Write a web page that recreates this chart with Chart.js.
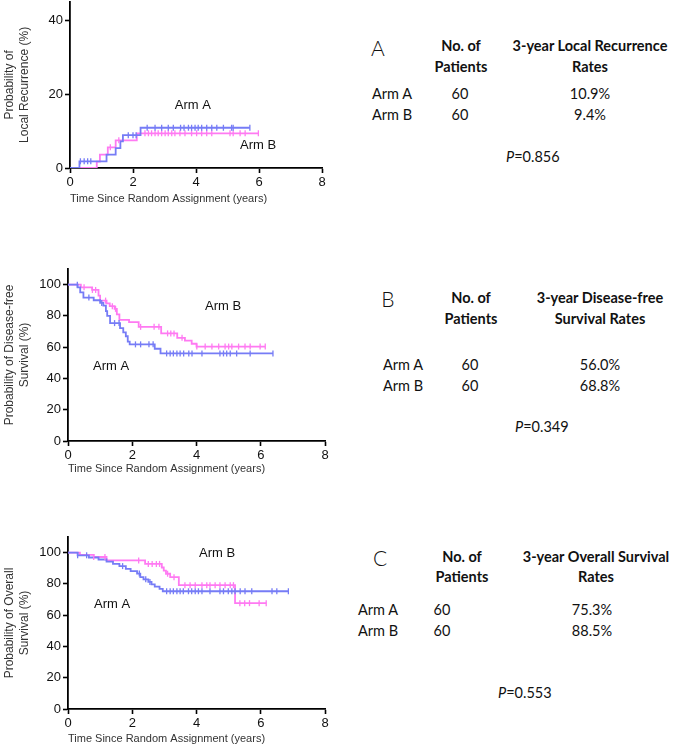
<!DOCTYPE html>
<html>
<head>
<meta charset="utf-8">
<script src="https://cdn.jsdelivr.net/npm/chart.js@4.4.0/dist/chart.umd.min.js"></script>
<style>
body { margin: 0; background: #fff; width: 685px; height: 747px; position: relative; overflow: hidden;
       font-family: Lato, "Open Sans", sans-serif; color: #111; }
canvas { position: absolute; left: 0; }
.t { position: absolute; white-space: nowrap; font-size: 14.5px; line-height: 1; transform: translate(0, -50%); }
.c { transform: translate(-50%, -50%); }
.b { font-weight: bold; }
.lt { font-size: 21px; font-weight: 300; }
i { font-style: italic; }
</style>
</head>
<body>
<canvas id="lrChart" width="335" height="218" style="top:-8px"></canvas>
<canvas id="dfsChart" width="335" height="250" style="top:230px"></canvas>
<canvas id="osChart" width="335" height="250" style="top:497px"></canvas>

<div class="t c lt" style="left:378px;top:47px">A</div>
<div class="t c b" style="left:461px;top:46px">No. of</div>
<div class="t c b" style="left:461px;top:67px">Patients</div>
<div class="t c b" style="left:590px;top:46px">3-year Local Recurrence</div>
<div class="t c b" style="left:590px;top:67px">Rates</div>
<div class="t" style="left:372px;top:94px">Arm A</div>
<div class="t" style="left:372px;top:115px">Arm B</div>
<div class="t c" style="left:460px;top:94px">60</div>
<div class="t c" style="left:460px;top:115px">60</div>
<div class="t c" style="left:590px;top:94px">10.9%</div>
<div class="t c" style="left:590px;top:115px">9.4%</div>
<div class="t" style="left:506px;top:157px"><i>P</i>=0.856</div>

<div class="t c lt" style="left:388px;top:298px">B</div>
<div class="t c b" style="left:471px;top:298px">No. of</div>
<div class="t c b" style="left:471px;top:319px">Patients</div>
<div class="t c b" style="left:600px;top:298px">3-year Disease-free</div>
<div class="t c b" style="left:600px;top:319px">Survival Rates</div>
<div class="t" style="left:383px;top:365px">Arm A</div>
<div class="t" style="left:383px;top:386px">Arm B</div>
<div class="t c" style="left:470px;top:365px">60</div>
<div class="t c" style="left:470px;top:386px">60</div>
<div class="t c" style="left:600px;top:365px">56.0%</div>
<div class="t c" style="left:600px;top:386px">68.8%</div>
<div class="t" style="left:515px;top:427px"><i>P</i>=0.349</div>

<div class="t c lt" style="left:380px;top:557px">C</div>
<div class="t c b" style="left:462px;top:557px">No. of</div>
<div class="t c b" style="left:462px;top:577px">Patients</div>
<div class="t c b" style="left:596px;top:557px">3-year Overall Survival</div>
<div class="t c b" style="left:596px;top:577px">Rates</div>
<div class="t" style="left:358px;top:610px">Arm A</div>
<div class="t" style="left:358px;top:631px">Arm B</div>
<div class="t c" style="left:442px;top:610px">60</div>
<div class="t c" style="left:442px;top:631px">60</div>
<div class="t c" style="left:592px;top:610px">75.3%</div>
<div class="t c" style="left:592px;top:631px">88.5%</div>
<div class="t" style="left:498px;top:693px"><i>P</i>=0.553</div>

<script>
// local recurrence (cumulative, %)
const lrTimeA = [0, 0.3, 1.16, 1.45, 1.6, 1.68, 2.24, 5.71];
const lrValA  = [0, 1.8, 3.6, 5.4, 7.2, 8.9, 10.9, 10.9];
const lrCensA = [0.33, 0.45, 0.56, 0.66, 1.85, 2.0, 2.1, 2.45, 2.7, 2.91, 3.12, 3.28, 3.51, 3.62, 3.76, 3.86,
                 3.97, 4.07, 4.18, 4.34, 4.5, 4.66, 4.87, 5.13, 5.18, 5.71];
const lrTimeB = [0, 0.85, 0.95, 1.2, 1.45, 2.12, 5.98];
const lrValB  = [0, 1.7, 3.6, 5.6, 7.5, 9.4, 9.4];
const lrCensB = [1.28, 1.55, 2.38, 2.49, 2.59, 2.7, 2.8, 2.91, 3.02, 3.12, 3.23, 3.33, 3.49, 3.65, 3.86, 4.02,
                 4.18, 4.34, 4.5, 5.08, 5.18, 5.4, 5.56, 5.98];

// disease-free survival (%)
const dfsTimeA = [0, 0.3, 0.38, 0.48, 0.8, 1.0, 1.1, 1.18, 1.22, 1.31, 1.62, 1.72, 1.8, 1.86, 1.92, 2.7, 2.88, 6.38];
const dfsValA  = [100, 98.3, 95, 91.7, 90, 88.3, 86.6, 83, 80, 75.4, 72.2, 69.5, 67, 63.5, 61.8, 59, 56, 56];
const dfsCensA = [0.29, 0.65, 1.05, 1.45, 1.59, 2.1, 2.26, 2.52, 2.65, 3.07, 3.18, 3.28, 3.39, 3.49, 3.6, 3.76,
                  3.86, 4.17, 4.73, 4.84, 4.94, 5.05, 5.25, 5.67, 6.38];
const dfsTimeB = [0, 0.4, 0.75, 0.95, 1.0, 1.2, 1.3, 1.45, 1.52, 1.6, 1.9, 2.2, 2.9, 3.4, 3.64, 3.85, 4.0, 6.14];
const dfsValB  = [100, 98.3, 96.6, 93, 89.8, 88, 86.2, 84.5, 81, 77.5, 76, 73, 68.8, 66, 64.2, 62.2, 60.4, 60.4];
const dfsCensB = [0.5, 0.76, 0.86, 1.17, 1.38, 1.48, 2.26, 2.68, 2.83, 3.1, 3.2, 3.3, 3.55, 4.01, 4.27, 4.48,
                  4.69, 4.89, 5.0, 5.1, 5.31, 5.51, 5.67, 5.98, 6.14];

// overall survival (%)
const osTimeA = [0, 0.3, 0.65, 0.95, 1.2, 1.4, 1.6, 1.8, 1.95, 2.15, 2.25, 2.35, 2.5, 2.6, 2.7, 2.85, 2.95, 6.86];
const osValA  = [100, 98.3, 96.9, 95.6, 94.2, 92.8, 91.4, 89.6, 88.2, 86.6, 84.4, 82.9, 81.3, 79.7, 78.2, 76.8, 75.3, 75.3];
const osCensA = [0.3, 0.58, 1.7, 2.22, 2.42, 2.55, 3.07, 3.18, 3.28, 3.39, 3.49, 3.59, 3.75, 3.85, 3.96, 4.06,
                 4.17, 4.42, 4.73, 4.84, 4.99, 5.1, 5.2, 5.36, 5.51, 5.72, 6.35, 6.5, 6.86];
const osTimeB = [0, 0.37, 0.8, 1.2, 2.4, 2.92, 2.98, 3.05, 3.18, 3.45, 5.2, 6.17];
const osValB  = [100, 98.6, 97.2, 95.0, 92.8, 90.5, 88.5, 86.5, 84.3, 79.2, 67.7, 67.7];
const osCensB = [0.8, 1.15, 2.2, 2.5, 2.62, 2.75, 2.85, 3.1, 3.3, 3.64, 3.8, 3.96, 4.17, 4.32, 4.42, 4.58, 4.73,
                 4.89, 5.05, 5.15, 5.35, 5.5, 5.65, 5.95, 6.17];

const xTicks = [0, 2, 4, 6, 8];
const lrYTicks = [0, 20, 40];
const survYTicks = [0, 20, 40, 60, 80, 100];

const BLUE = 'rgb(118,124,246)';
const PINK = 'rgb(255,122,242)';
const AXIS_FONT = "'Liberation Sans', Arial, sans-serif";

function stepAt(times, vals, t) {
    let v = vals[0];
    for (let i = 0; i < times.length; i++) if (times[i] <= t) v = vals[i];
    return v;
}

function curveSet(times, vals, color) {
    return {
        type: 'scatter', showLine: true, stepped: 'before',
        data: times.map((t, i) => ({ x: t, y: vals[i] })),
        borderColor: color, borderWidth: 1.8, pointRadius: 0, order: 2
    };
}

function censorSet(times, vals, cens, color) {
    return {
        type: 'scatter', showLine: false,
        data: cens.map(t => ({ x: t, y: stepAt(times, vals, t) })),
        pointStyle: 'line', rotation: 90, pointRadius: 3, borderColor: color, borderWidth: 1.3, order: 1
    };
}

const armLabelPlugin = {
    id: 'armLabels',
    afterDatasetsDraw(chart, args, opts) {
        const ctx = chart.ctx, xs = chart.scales.x, ys = chart.scales.y;
        ctx.save();
        ctx.font = `13px ${AXIS_FONT}`;
        ctx.fillStyle = '#111';
        ctx.textAlign = 'center';
        ctx.textBaseline = 'middle';
        (opts.items || []).forEach(l => ctx.fillText(l.text, xs.getPixelForValue(l.x), ys.getPixelForValue(l.y)));
        ctx.restore();
    }
};

function kmChart(id, cfg) {
    return new Chart(document.getElementById(id), {
        type: 'scatter',
        data: {
            datasets: [
                censorSet(cfg.tA, cfg.vA, cfg.cA, BLUE),
                censorSet(cfg.tB, cfg.vB, cfg.cB, PINK),
                curveSet(cfg.tA, cfg.vA, BLUE),
                curveSet(cfg.tB, cfg.vB, PINK)
            ]
        },
        plugins: [armLabelPlugin],
        options: {
            responsive: false,
            animation: false,
            layout: { padding: { top: cfg.padTop, right: cfg.padRight, left: 0, bottom: 0 } },
            plugins: { legend: { display: false }, tooltip: { enabled: false }, armLabels: { items: cfg.labels } },
            scales: {
                x: {
                    type: 'linear', min: 0, max: 8,
                    afterBuildTicks: s => { s.ticks = xTicks.map(v => ({ value: v })); },
                    afterFit: s => { s.height = cfg.xHeight; },
                    grid: { drawOnChartArea: false, drawTicks: true, tickLength: 5, tickWidth: 1.6, color: '#000' },
                    border: { color: '#000', width: 1.8 },
                    ticks: { font: { size: 13, family: AXIS_FONT }, color: '#111', padding: 2, maxRotation: 0 },
                    title: { display: true, text: 'Time Since Random Assignment (years)', align: 'start',
                             font: { size: 11, family: AXIS_FONT, lineHeight: '15px' }, color: '#333',
                             padding: { top: 0, bottom: cfg.xTitlePad } }
                },
                y: {
                    type: 'linear', min: 0, max: cfg.yMax,
                    afterBuildTicks: s => { s.ticks = cfg.yTicks.map(v => ({ value: v })); },
                    afterFit: s => { s.width = cfg.yWidth; },
                    grid: { drawOnChartArea: false, drawTicks: true, tickLength: 5, tickWidth: 1.6, color: '#000' },
                    border: { color: '#000', width: 1.8 },
                    ticks: { font: { size: 13, family: AXIS_FONT }, color: '#111', padding: 2 },
                    title: { display: true, text: cfg.yTitle,
                             font: { size: 12, family: AXIS_FONT, lineHeight: '15px' }, color: '#333',
                             padding: { top: 2, bottom: 0 } }
                }
            }
        }
    });
}

kmChart('lrChart', {
    tA: lrTimeA, vA: lrValA, cA: lrCensA, tB: lrTimeB, vB: lrValB, cB: lrCensB,
    yMax: 45, yTicks: lrYTicks, yTitle: ['Probability of', 'Local Recurrence (%)'],
    padTop: 8, padRight: 13, xHeight: 42, yWidth: 70, xTitlePad: 4,
    labels: [{ text: 'Arm A', x: 3.9, y: 17 }, { text: 'Arm B', x: 5.97, y: 6.1 }]
});

kmChart('dfsChart', {
    tA: dfsTimeA, vA: dfsValA, cA: dfsCensA, tB: dfsTimeB, vB: dfsValB, cB: dfsCensB,
    yMax: 110, yTicks: survYTicks, yTitle: ['Probability of Disease-free', 'Survival (%)'],
    padTop: 39, padRight: 10, xHeight: 39, yWidth: 68, xTitlePad: 4,
    labels: [{ text: 'Arm B', x: 4.83, y: 86 }, { text: 'Arm A', x: 1.34, y: 47.8 }]
});

kmChart('osChart', {
    tA: osTimeA, vA: osValA, cA: osCensA, tB: osTimeB, vB: osValB, cB: osCensB,
    yMax: 110, yTicks: survYTicks, yTitle: ['Probability of Overall', 'Survival (%)'],
    padTop: 40, padRight: 10, xHeight: 38, yWidth: 68, xTitlePad: 1,
    labels: [{ text: 'Arm B', x: 4.64, y: 99.4 }, { text: 'Arm A', x: 1.37, y: 66.9 }]
});
</script>
</body>
</html>
